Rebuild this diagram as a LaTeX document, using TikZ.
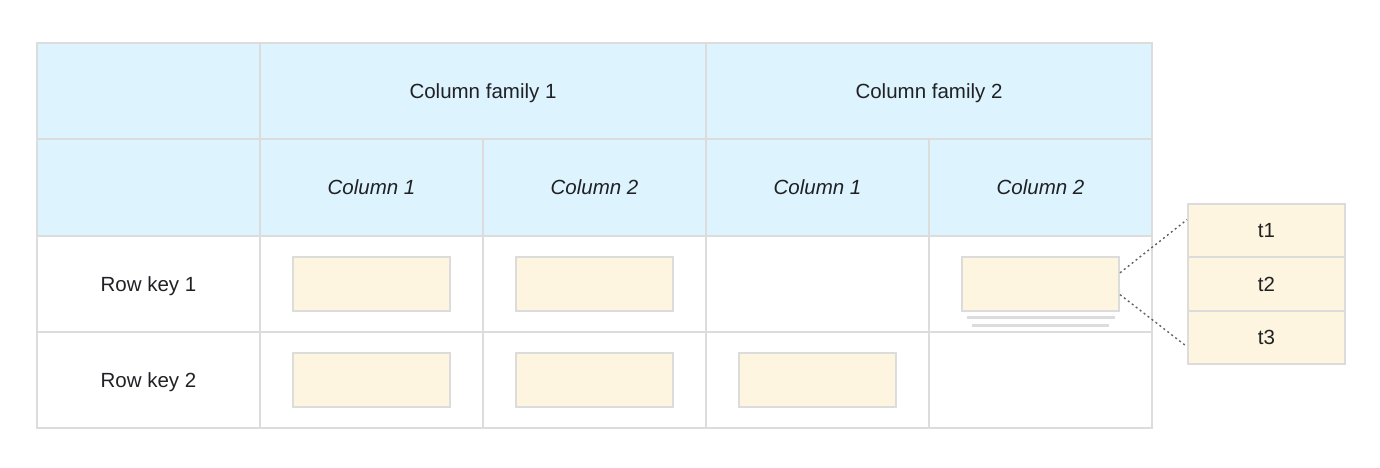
\documentclass[tikz,border=0pt]{standalone}
\usepackage{fontspec}
\setmainfont{Liberation Sans}
\usetikzlibrary{calc}

\definecolor{headblue}{HTML}{DDF3FE}
\definecolor{cellcream}{HTML}{FDF5DF}
\definecolor{gridgray}{HTML}{DCDCDC}
\definecolor{textdark}{HTML}{202124}
\definecolor{dotgray}{HTML}{5F6368}

\begin{document}
\begin{tikzpicture}[x=1pt, y=-1pt,
    cell/.style={draw=gridgray, line width=2pt, minimum width=223pt, minimum height=96.5pt,
        inner sep=0pt, text=textdark, text depth=0pt, font=\fontsize{20.5}{24}\selectfont},
    headcell/.style={cell, fill=headblue},
    valbox/.style={draw=gridgray, line width=2pt, fill=cellcream, minimum width=157pt,
        minimum height=54pt, inner sep=0pt},
    tsbox/.style={valbox, minimum height=53.3pt, text=textdark, text depth=0pt,
        font=\fontsize{20.5}{24}\selectfont},
    link/.style={draw=dotgray, line width=1.4pt, dash pattern=on 2pt off 3pt}]

    \useasboundingbox (0,0) rectangle (1380,468);

    % Header: column families
    \node[headcell] (corner) at (148.5,91) {};
    \node[headcell, minimum width=446pt] (cf1) at (483,91) {Column family 1};
    \node[headcell, minimum width=446pt] (cf2) at (929,91) {Column family 2};

    % Header: columns
    \node[headcell] (blank) at (148.5,187.5) {};
    \node[headcell] (c11) at (371.5,187.5) {\itshape Column 1};
    \node[headcell] (c12) at (594.5,187.5) {\itshape Column 2};
    \node[headcell] (c21) at (817.5,187.5) {\itshape Column 1};
    \node[headcell] (c22) at (1040.5,187.5) {\itshape Column 2};

    % Rows
    \node[cell] (rk1) at (148.5,284) {Row key 1};
    \node[cell] (rk2) at (148.5,380) {Row key 2};
    \foreach \x [count=\i] in {371.5,594.5,817.5,1040.5} {
        \node[cell] (r1c\i) at (\x,284) {};
        \node[cell] (r2c\i) at (\x,380) {};
    }

    % Values
    \node[valbox] (v11) at (r1c1) {};
    \node[valbox] (v12) at (r1c2) {};
    \node[valbox] (v14) at (r1c4) {};
    \node[valbox] (v21) at (r2c1) {};
    \node[valbox] (v22) at (r2c2) {};
    \node[valbox] (v23) at (r2c3) {};

    % Older versions under the cell value
    \draw[gridgray, line width=2.5pt] (967,317.5) -- (1115,317.5);
    \draw[gridgray, line width=2.5pt] (972,325.5) -- (1109,325.5);

    % Timestamps
    \node[tsbox] (t1) at (1266.5,230.7) {t1};
    \node[tsbox] (t2) at (1266.5,284) {t2};
    \node[tsbox] (t3) at (1266.5,337.3) {t3};

    % Links
    \draw[link] ($(v14.north east)!0.3!(v14.south east)$) -- ($(t1.north west)!0.3!(t1.south west)$);
    \draw[link] ($(v14.north east)!0.69!(v14.south east)$) -- ($(t3.north west)!0.67!(t3.south west)$);
\end{tikzpicture}
\end{document}
